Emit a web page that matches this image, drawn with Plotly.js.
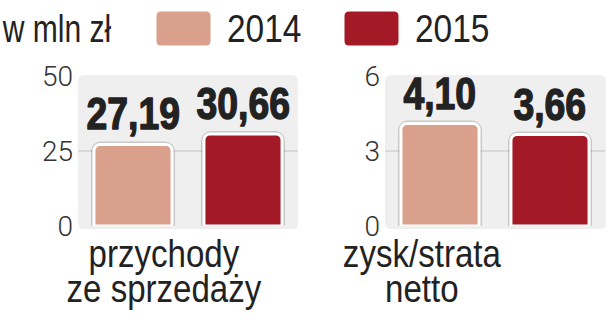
<!DOCTYPE html>
<html><head><meta charset="utf-8">
<script src="https://cdn.plot.ly/plotly-3.0.1.min.js"></script>
<style>html,body{margin:0;padding:0;background:#fff}#chart{width:606px;height:319px}</style>
</head><body><div id="chart"></div>
<script>
const years = ["2014", "2015"];
const unitLabel = "w mln zł";
const categories = [["przychody", "ze sprzedaży"], ["zysk/strata", "netto"]];
const revenue = [27.19, 30.66];
const netProfit = [4.10, 3.66];
const yTicksRevenue = [0, 25, 50];
const yTicksProfit = [0, 3, 6];
const yearColors = ["#D9A08C", "#A31A26"];

const W = 606, H = 319;
const fx = x => x / W, fy = y => 1 - y / H;
function roundRect(x0, y0, x1, y1, r) {
  const p = (x, y) => fx(x) + "," + fy(y);
  return "M" + p(x0 + r, y0) + " L" + p(x1 - r, y0) + " Q" + p(x1, y0) + " " + p(x1, y0 + r) +
    " L" + p(x1, y1 - r) + " Q" + p(x1, y1) + " " + p(x1 - r, y1) +
    " L" + p(x0 + r, y1) + " Q" + p(x0, y1) + " " + p(x0, y1 - r) +
    " L" + p(x0, y0 + r) + " Q" + p(x0, y0) + " " + p(x0 + r, y0) + " Z";
}
const fmt = v => v.toFixed(2).replace(".", ",");
const sans = "'Liberation Sans', Arial, sans-serif";

const panels = [
  {vals: revenue, xa: "x", ya: "y"},
  {vals: netProfit, xa: "x2", ya: "y2"}
];
const data = [];
panels.forEach(p => {
  data.push({type: "bar", x: years, y: p.vals, xaxis: p.xa, yaxis: p.ya,
    marker: {color: "rgba(0,0,0,0)", line: {color: "rgba(0,0,0,0.16)", width: 6}, cornerradius: 7},
    hoverinfo: "skip", showlegend: false, cliponaxis: false});
  data.push({type: "bar", x: years, y: p.vals, xaxis: p.xa, yaxis: p.ya,
    marker: {color: yearColors, line: {color: "#ffffff", width: 3}, cornerradius: 6},
    hoverinfo: "skip", showlegend: false, cliponaxis: false});
});

const annotations = [];
const post = [];   // per-annotation post-processing: horizontal squeeze, stroke, line spacing, baseline
panels.forEach(p => {
  p.vals.forEach((v, i) => {
    annotations.push({xref: p.xa, yref: p.ya, x: i, y: v, yanchor: "bottom", yshift: 3,
      showarrow: false, text: fmt(v),
      font: {family: sans, size: 45, color: "#222222", weight: 700}});
    post.push({f: 0.83, stroke: 1.4});
  });
});
const catCenters = [164, 422];
categories.forEach((lines, c) => {
  annotations.push({xref: "paper", yref: "paper", x: fx(catCenters[c]), y: fy(250),
    xanchor: "center", yanchor: "middle", showarrow: false, text: lines.join("<br>"),
    font: {family: sans, size: 38, color: "#222222"}});
  post.push({f: 0.87, lineDy: "0.92em", baseline: 267});
});
annotations.push({xref: "paper", yref: "paper", x: 0, y: fy(29), xanchor: "left", yanchor: "middle",
  showarrow: false, text: unitLabel, font: {family: sans, size: 38, color: "#222222"}});
post.push({f: 0.79});
const legendSw = [155, 343];
years.forEach((yr, i) => {
  annotations.push({xref: "paper", yref: "paper", x: fx(legendSw[i] + 70), y: fy(29), xanchor: "left", yanchor: "middle",
    showarrow: false, text: yr, font: {family: sans, size: 38, color: "#222222"}});
  post.push({f: 0.88});
});

const shapes = [];
[[78, 298], [385, 606]].forEach(([a, b]) => {
  shapes.push({type: "path", xref: "paper", yref: "paper", path: roundRect(a, 75, b, 229, 6),
    fillcolor: "#efefef", line: {width: 0}, layer: "below"});
});
["x", "x2"].forEach((xa, k) => {
  shapes.push({type: "line", xref: xa + " domain", yref: (k ? "y2" : "y") + " domain",
    x0: 0, x1: 1, y0: 0.5, y1: 0.5, line: {color: "#d2d2d2", width: 1.5}, layer: "below"});
});
legendSw.forEach((x0, i) => {
  shapes.push({type: "path", xref: "paper", yref: "paper", path: roundRect(x0 - 1, 9, x0 + 58, 48, 7),
    fillcolor: "#cfcfcf", line: {width: 0}});
  shapes.push({type: "path", xref: "paper", yref: "paper", path: roundRect(x0, 10, x0 + 57, 47, 6),
    fillcolor: yearColors[i], line: {color: "#ffffff", width: 3}});
});

const yBase = {showgrid: false, zeroline: false, showline: false, ticks: "",
  tickfont: {family: "Roboto, sans-serif", size: 28, color: "#333333", weight: 300},
  ticklabelstandoff: 4, domain: [fy(226), fy(76)], fixedrange: true};
const xBase = {type: "category", showticklabels: false, showgrid: false, zeroline: false, showline: false,
  range: [-0.5, 1.5], fixedrange: true};

const layout = {
  width: W, height: H, margin: {l: 0, r: 0, t: 0, b: 0},
  paper_bgcolor: "#ffffff", plot_bgcolor: "rgba(0,0,0,0)",
  barmode: "overlay", bargap: 0.29, showlegend: false,
  xaxis: Object.assign({}, xBase, {domain: [fx(78), fx(298)], anchor: "y"}),
  xaxis2: Object.assign({}, xBase, {domain: [fx(385), fx(605)], anchor: "y2"}),
  yaxis: Object.assign({}, yBase, {range: [0, 50], tickvals: yTicksRevenue, anchor: "x"}),
  yaxis2: Object.assign({}, yBase, {range: [0, 6], tickvals: yTicksProfit, anchor: "x2"}),
  annotations: annotations, shapes: shapes
};
Plotly.newPlot("chart", data, layout, {staticPlot: true, displayModeBar: false}).then(gd => {
  gd.querySelectorAll("g.annotation").forEach(g => {
    const idx = +g.getAttribute("data-index");
    const t = g.querySelector("text.annotation-text");
    if (!t || isNaN(idx)) return;
    const o = post[idx];
    if (o.lineDy) {
      const spans = t.querySelectorAll("tspan.line");
      for (let k = 1; k < spans.length; k++) spans[k].setAttribute("dy", o.lineDy);
    }
    let shift = 0;
    if (o.baseline !== undefined) {
      const pos = t.getStartPositionOfChar(0);
      const m = t.getScreenCTM();
      const sy = m.b * pos.x + m.d * pos.y + m.f;
      shift = o.baseline - sy;
    }
    if (o.stroke) {
      t.style.stroke = "#222222";
      t.style.strokeWidth = o.stroke + "px";
      t.style.strokeLinejoin = "round";
    }
    const bb = t.getBBox();
    const ax = annotations[idx].xanchor === "left" ? bb.x : bb.x + bb.width / 2;
    t.setAttribute("transform", "translate(0," + shift + ") translate(" + ax + ",0) scale(" + o.f + ",1) translate(" + (-ax) + ",0)");
  });
});
</script></body></html>
